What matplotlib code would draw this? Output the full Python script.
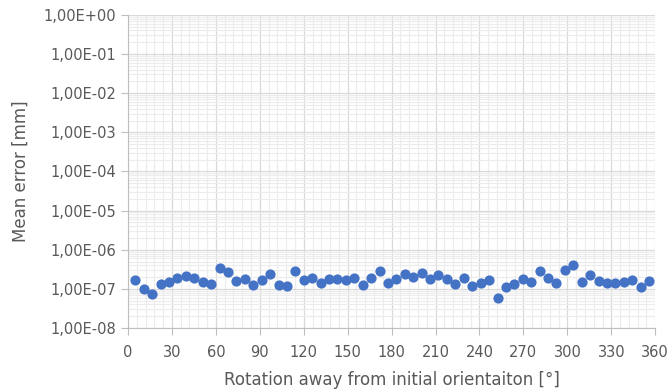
import matplotlib
matplotlib.use('Agg')
import matplotlib.pyplot as plt
from matplotlib.ticker import MultipleLocator, LogLocator, FuncFormatter, NullFormatter

# rotation angle [deg] and mean error [mm]
angle = [5.0, 10.8, 16.5, 22.3, 28.0, 33.8, 39.5, 45.3, 51.0, 56.8,
         62.5, 68.3, 74.0, 79.8, 85.5, 91.3, 97.0, 102.8, 108.5, 114.3,
         120.0, 125.8, 131.5, 137.3, 143.0, 148.8, 154.5, 160.3, 166.0, 171.8,
         177.5, 183.3, 189.0, 194.8, 200.5, 206.3, 212.0, 217.8, 223.5, 229.3,
         235.0, 240.8, 246.5, 252.3, 258.0, 263.8, 269.5, 275.3, 281.0, 286.8,
         292.5, 298.3, 304.0, 309.8, 315.5, 321.3, 327.0, 332.8, 338.5, 344.3,
         350.0, 355.8]
mean_err = [1.66e-7, 0.98e-7, 0.73e-7, 1.36e-7, 1.54e-7, 1.86e-7, 2.15e-7, 1.91e-7, 1.54e-7, 1.34e-7,
            3.43e-7, 2.65e-7, 1.63e-7, 1.76e-7, 1.27e-7, 1.66e-7, 2.36e-7, 1.27e-7, 1.17e-7, 2.88e-7,
            1.66e-7, 1.91e-7, 1.42e-7, 1.76e-7, 1.76e-7, 1.73e-7, 1.94e-7, 1.24e-7, 1.91e-7, 2.93e-7,
            1.45e-7, 1.80e-7, 2.41e-7, 1.98e-7, 2.51e-7, 1.76e-7, 2.32e-7, 1.83e-7, 1.34e-7, 1.91e-7,
            1.21e-7, 1.42e-7, 1.70e-7, 0.57e-7, 1.12e-7, 1.36e-7, 1.83e-7, 1.54e-7, 2.93e-7, 1.91e-7,
            1.45e-7, 3.05e-7, 4.17e-7, 1.47e-7, 2.27e-7, 1.56e-7, 1.42e-7, 1.45e-7, 1.47e-7, 1.70e-7,
            1.12e-7, 1.56e-7]

TXT = '#595959'
GRID = '#d9d9d9'

fig = plt.figure(figsize=(6.7, 3.91), dpi=100)
ax = fig.add_axes([0.191, 0.161, 0.787, 0.801])

ax.scatter(angle, mean_err, s=54, color='#4472C4', zorder=3, linewidths=0)

ax.set_yscale('log')
ax.set_ylim(1e-8, 1e0)
ax.set_xlim(0, 360)
ax.xaxis.set_major_locator(MultipleLocator(30))
ax.xaxis.set_minor_locator(MultipleLocator(6))
ax.yaxis.set_major_locator(LogLocator(base=10, numticks=20))
ax.yaxis.set_minor_locator(LogLocator(base=10, subs=range(2, 10), numticks=20))
ax.yaxis.set_minor_formatter(NullFormatter())
ax.yaxis.set_major_formatter(FuncFormatter(lambda v, p: f'{v:.2E}'.replace('.', ',')))

ax.grid(True, which='major', color=GRID, linewidth=0.9, zorder=0)
ax.grid(True, which='minor', color='#ececec', linewidth=0.8, zorder=0)
ax.set_axisbelow(True)

for s in ['top', 'right']:
    ax.spines[s].set_visible(False)
for s in ['left', 'bottom']:
    ax.spines[s].set_color('#bfbfbf')
ax.tick_params(which='major', length=5, color='#bfbfbf', labelcolor=TXT, labelsize=10.5)
ax.tick_params(axis='x', which='major', pad=7)
ax.tick_params(which='minor', length=0)

ax.set_xlabel('Rotation away from initial orientaiton [°]', fontsize=12, color=TXT, labelpad=8)
ax.set_ylabel('Mean error [mm]', fontsize=12, color=TXT, labelpad=10)

plt.savefig('out.png', dpi=100)
plt.close()
